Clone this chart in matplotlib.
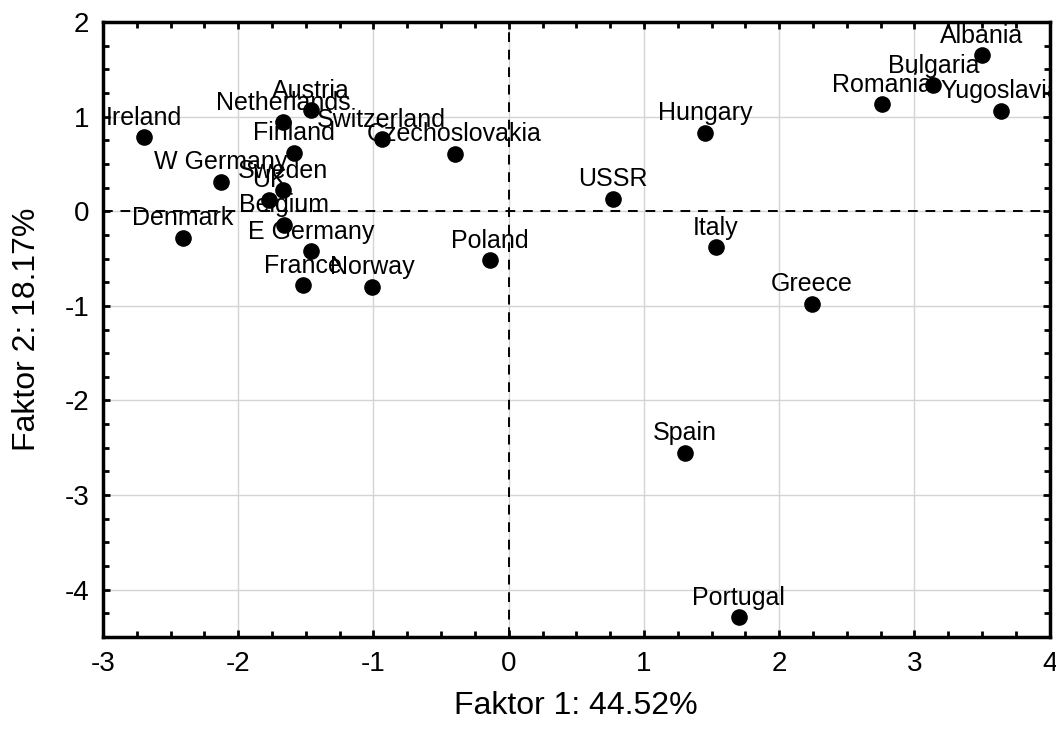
import matplotlib
matplotlib.use("Agg")
import matplotlib.pyplot as plt
from matplotlib.ticker import MultipleLocator

plt.rcParams['font.family'] = ['Liberation Sans', 'DejaVu Sans']
plt.rcParams['axes.unicode_minus'] = False

countries = ["Ireland", "Netherlands", "Austria", "Switzerland", "Czechoslovakia",
             "Finland", "W Germany", "Sweden", "UK", "Belgium", "Denmark",
             "E Germany", "France", "Norway", "Poland", "Albania", "Bulgaria",
             "Romania", "Yugoslavia", "Hungary", "USSR", "Italy", "Greece",
             "Spain", "Portugal"]
faktor1 = [-2.70, -1.67, -1.46, -0.94, -0.40,
           -1.59, -2.13, -1.67, -1.77, -1.66, -2.41,
           -1.46, -1.52, -1.01, -0.14, 3.50, 3.14,
           2.76, 3.64, 1.45, 0.77, 1.53, 2.24,
           1.30, 1.70]
faktor2 = [0.78, 0.94, 1.07, 0.76, 0.61,
           0.62, 0.31, 0.22, 0.12, -0.14, -0.28,
           -0.42, -0.78, -0.80, -0.52, 1.65, 1.33,
           1.13, 1.06, 0.83, 0.13, -0.38, -0.98,
           -2.55, -4.29]

xlabel = "Faktor 1: 44.52%"
ylabel = "Faktor 2: 18.17%"

fig = plt.figure(figsize=(10.56, 7.35), dpi=100)
ax = fig.add_axes([0.0975, 0.1333, 0.8965, 0.8367])

ax.set_xlim(-3, 4)
ax.set_ylim(-4.5, 2)
ax.xaxis.set_major_locator(MultipleLocator(1))
ax.yaxis.set_major_locator(MultipleLocator(1))
ax.xaxis.set_minor_locator(MultipleLocator(0.25))
ax.yaxis.set_minor_locator(MultipleLocator(0.25))
ax.grid(True, which='major', color='#d4d4d4', linewidth=1.0, zorder=0)
ax.set_axisbelow(True)

ax.axhline(0, color='black', linestyle=(0, (5, 4)), linewidth=1.4, zorder=1)
ax.axvline(0, color='black', linestyle=(0, (5, 4)), linewidth=1.4, zorder=1)

ax.scatter(faktor1, faktor2, s=120, color='black', zorder=3)
for name, x, y in zip(countries, faktor1, faktor2):
    ax.annotate(name, (x, y), xytext=(0, 9), textcoords='offset points',
                ha='center', va='baseline', fontsize=18, color='black',
                clip_on=True, zorder=4)

for sp in ax.spines.values():
    sp.set_linewidth(2.5)
    sp.set_color('black')

ax.tick_params(which='both', direction='in', top=True, right=True,
               color='black')
ax.tick_params(which='major', length=5, width=2, labelsize=20, pad=10)
ax.tick_params(which='minor', length=4, width=2)

ax.set_xlabel(xlabel, fontsize=23, labelpad=10)
ax.set_ylabel(ylabel, fontsize=23, labelpad=16)

fig.savefig("out.png", dpi=100, facecolor='white')
